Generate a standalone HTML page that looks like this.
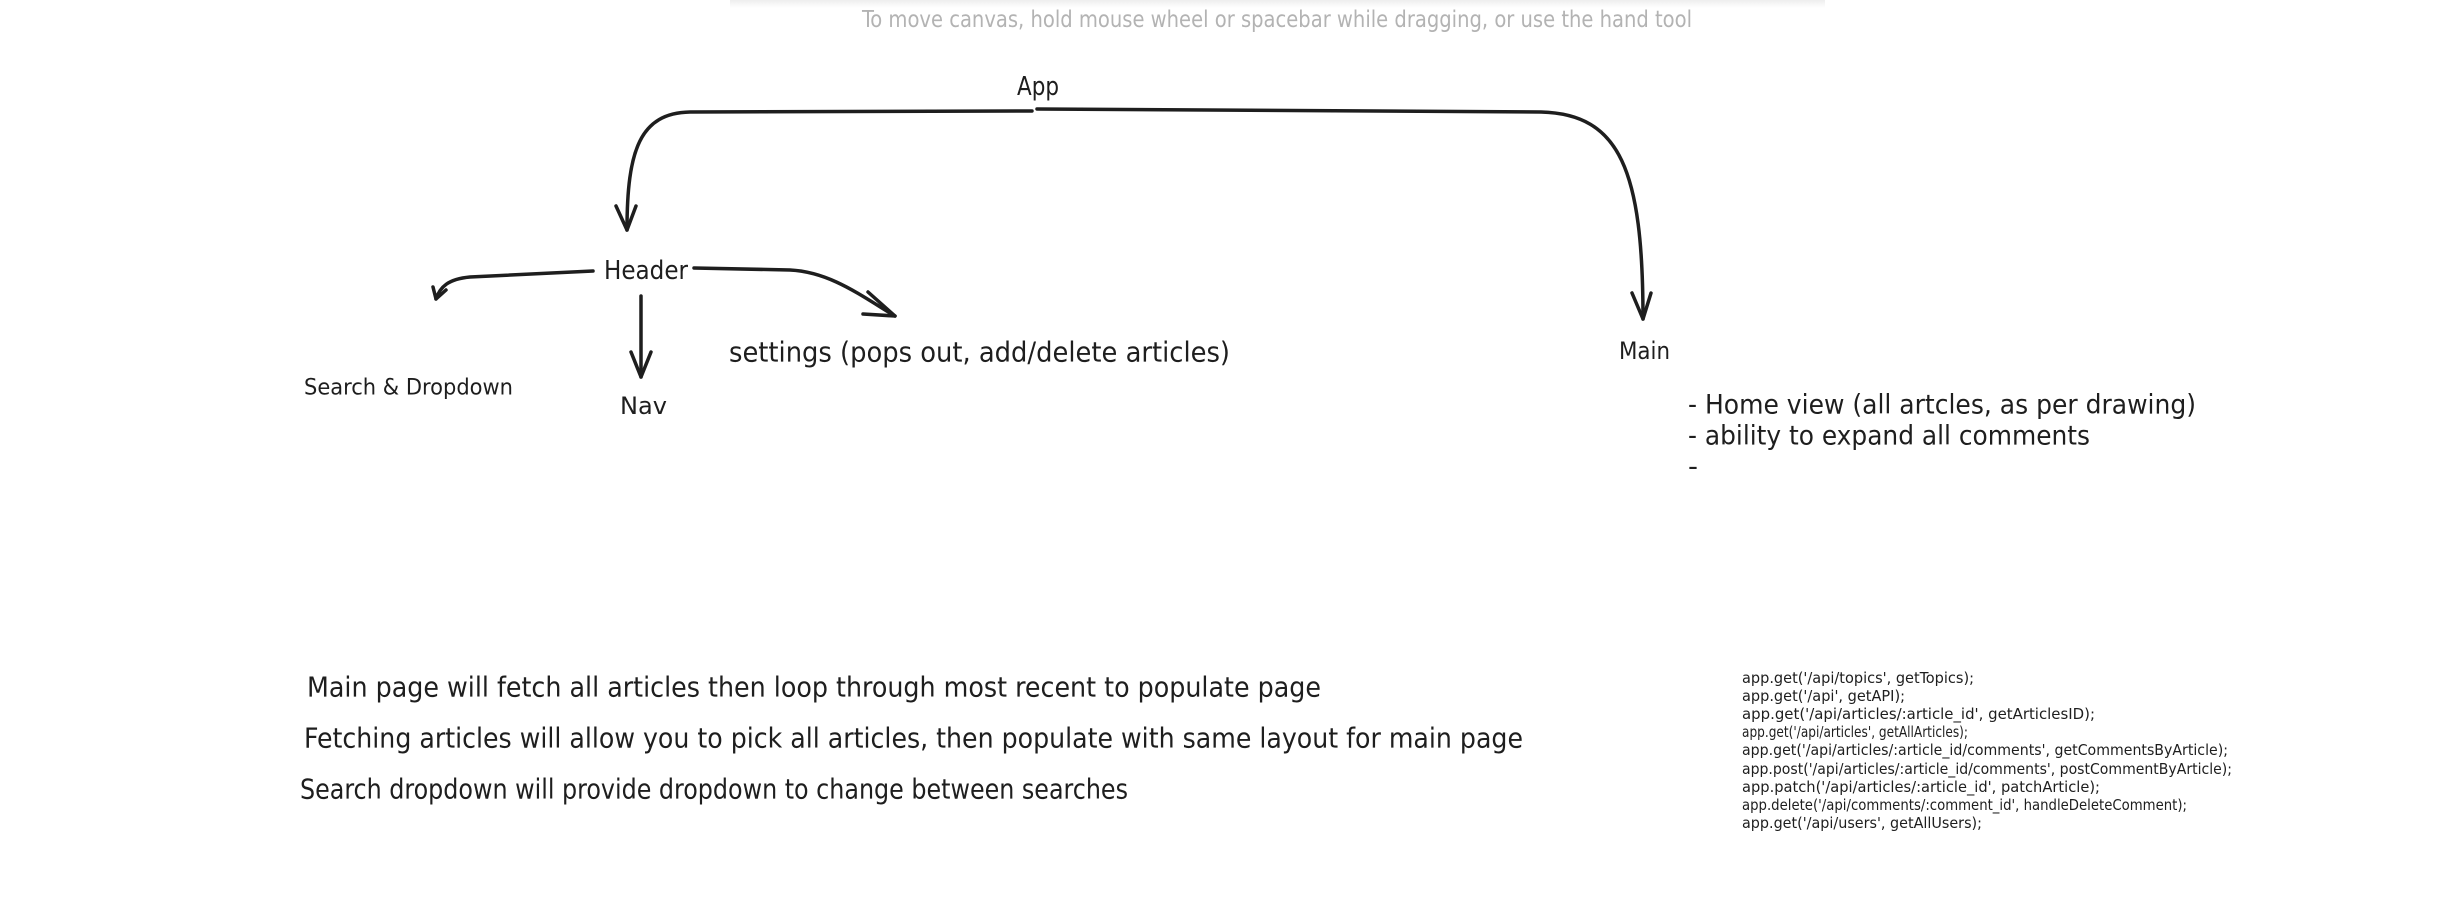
<!DOCTYPE html>
<html><head><meta charset="utf-8"><style>
html,body{margin:0;padding:0;background:#fff;width:2442px;height:897px;overflow:hidden}
svg{display:block}
text{font-family:"DejaVu Sans Condensed","Liberation Sans",sans-serif;fill:#1e1e1e;dominant-baseline:central}
</style></head><body>
<svg width="2442" height="897" viewBox="0 0 2442 897" xmlns="http://www.w3.org/2000/svg">
<defs><linearGradient id="sh" x1="0" y1="0" x2="0" y2="1"><stop offset="0" stop-color="#eee"/><stop offset="1" stop-color="#fff"/></linearGradient></defs>
<rect x="730" y="0" width="1095" height="8" fill="url(#sh)"/>
<text x="862" y="20" font-size="23" style="fill:#b3b3b3" textLength="830" lengthAdjust="spacingAndGlyphs" font-family="Liberation Sans">To move canvas, hold mouse wheel or spacebar while dragging, or use the hand tool</text>

<g fill="none" stroke="#1e1e1e" stroke-width="3.5" stroke-linecap="round" stroke-linejoin="round">
<path d="M1032 111 L690 112 C640 113 627 150 627 230"/>
<path d="M616 206 L627 230 L636 206"/>
<path d="M1037 109 L1541 112 C1620 114 1643 170 1643 319"/>
<path d="M1632 293 L1643 319 L1651 293"/>
<path d="M593 271 L470 277 C448 279 440 287 436 299"/>
<path d="M433 287 L436 299 L446 290"/>
<path d="M641 296 L641 377"/>
<path d="M631 352 L641 377 L651 352"/>
<path d="M694 268 L790 270 C830 272 860 295 895 316"/>
<path d="M868 292 L895 316 L863 314"/>
</g>

<text x="1017" y="87" font-size="26" textLength="42" lengthAdjust="spacingAndGlyphs">App</text>
<text x="604" y="271" font-size="26" textLength="84" lengthAdjust="spacingAndGlyphs">Header</text>
<text x="304" y="388" font-size="22" textLength="209" lengthAdjust="spacingAndGlyphs">Search &amp; Dropdown</text>
<text x="620" y="406" font-size="24" textLength="47" lengthAdjust="spacingAndGlyphs">Nav</text>
<text x="729" y="352" font-size="28" textLength="501" lengthAdjust="spacingAndGlyphs">settings (pops out, add/delete articles)</text>
<text x="1619" y="351" font-size="24" textLength="51" lengthAdjust="spacingAndGlyphs">Main</text>
<text x="1688" y="405" font-size="27" textLength="508" lengthAdjust="spacingAndGlyphs">- Home view (all artcles, as per drawing)</text>
<text x="1688" y="436" font-size="27" textLength="402" lengthAdjust="spacingAndGlyphs">- ability to expand all comments</text>
<text x="1688" y="467" font-size="27" textLength="10" lengthAdjust="spacingAndGlyphs">-</text>

<text x="307" y="687" font-size="28" textLength="1014" lengthAdjust="spacingAndGlyphs">Main page will fetch all articles then loop through most recent to populate page</text>
<text x="304" y="738" font-size="28" textLength="1219" lengthAdjust="spacingAndGlyphs">Fetching articles will allow you to pick all articles, then populate with same layout for main page</text>
<text x="300" y="789" font-size="28" textLength="828" lengthAdjust="spacingAndGlyphs">Search dropdown will provide dropdown to change between searches</text>

<g font-size="15">
<text x="1742" y="678" textLength="232" lengthAdjust="spacingAndGlyphs">app.get('/api/topics', getTopics);</text>
<text x="1742" y="696" textLength="163" lengthAdjust="spacingAndGlyphs">app.get('/api', getAPI);</text>
<text x="1742" y="714" textLength="353" lengthAdjust="spacingAndGlyphs">app.get('/api/articles/:article_id', getArticlesID);</text>
<text x="1742" y="732" textLength="226" lengthAdjust="spacingAndGlyphs">app.get('/api/articles', getAllArticles);</text>
<text x="1742" y="750" textLength="486" lengthAdjust="spacingAndGlyphs">app.get('/api/articles/:article_id/comments', getCommentsByArticle);</text>
<text x="1742" y="769" textLength="490" lengthAdjust="spacingAndGlyphs">app.post('/api/articles/:article_id/comments', postCommentByArticle);</text>
<text x="1742" y="787" textLength="358" lengthAdjust="spacingAndGlyphs">app.patch('/api/articles/:article_id', patchArticle);</text>
<text x="1742" y="805" textLength="445" lengthAdjust="spacingAndGlyphs">app.delete('/api/comments/:comment_id', handleDeleteComment);</text>
<text x="1742" y="823" textLength="240" lengthAdjust="spacingAndGlyphs">app.get('/api/users', getAllUsers);</text>
</g>
</svg>
</body></html>
